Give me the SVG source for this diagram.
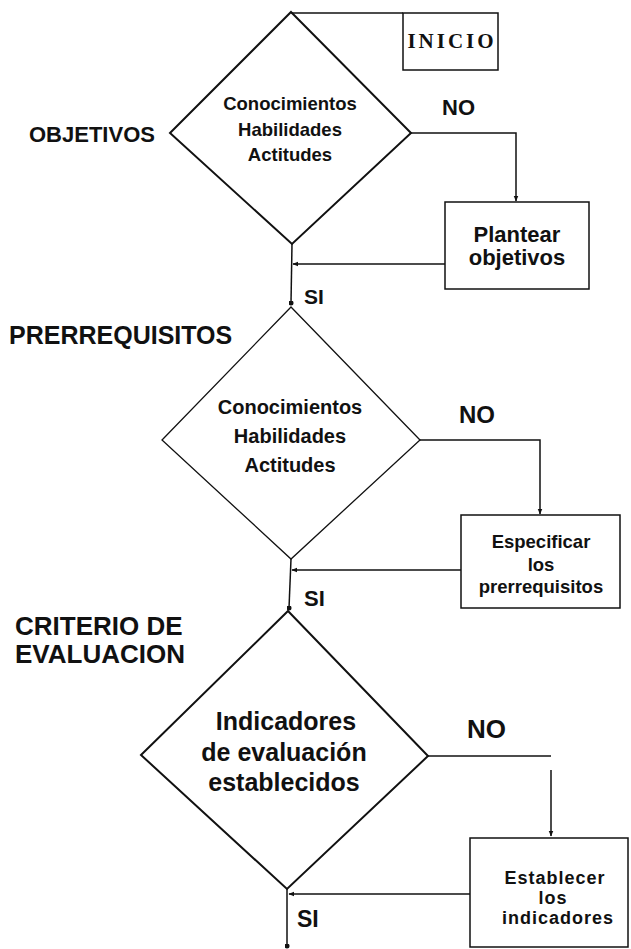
<svg xmlns="http://www.w3.org/2000/svg" width="631" height="949" viewBox="0 0 631 949">
  <style>
    .bg { fill: #ffffff; }
    .dia { fill: none; stroke: #111; stroke-width: 2; stroke-linejoin: miter; }
    .dia-thin { fill: none; stroke: #111; stroke-width: 1.3; }
    .box { fill: none; stroke: #111; stroke-width: 1.5; }
    .con { fill: none; stroke: #111; stroke-width: 1.5; }
    .t { font-family: "Liberation Sans", Arial, Helvetica, sans-serif; font-weight: bold; fill: #111; }
    .c { text-anchor: middle; }
    .serif { font-family: "Liberation Serif", "Times New Roman", serif; font-weight: bold; fill: #111; }
  </style>
  <defs>
    <marker id="arr" viewBox="0 0 10 10" refX="9" refY="5" markerWidth="6" markerHeight="6" markerUnits="userSpaceOnUse" orient="auto">
      <path d="M0,1 L10,5 L0,9 Z" fill="#111"/>
    </marker>
    <marker id="dot" viewBox="0 0 10 10" refX="5" refY="5" markerWidth="5" markerHeight="5" markerUnits="userSpaceOnUse">
      <circle cx="5" cy="5" r="5" fill="#111"/>
    </marker>
  </defs>
  <rect class="bg" x="0" y="0" width="631" height="949"/>

  <g id="labels">
    <text class="t" x="29" y="142" font-size="22">OBJETIVOS</text>
    <text class="t" x="9" y="344" font-size="25">PRERREQUISITOS</text>
    <text class="t" x="15" y="635" font-size="26">CRITERIO DE</text>
    <text class="t" x="15" y="663" font-size="26">EVALUACION</text>
  </g>

  <g id="inicio">
    <rect class="box" x="403" y="13" width="95" height="57"/>
    <text class="serif c" x="452" y="48" font-size="21" letter-spacing="3">INICIO</text>
  </g>

  <g id="decision1">
    <polygon class="dia" points="291,12 411,133 292,244 170,133"/>
    <text class="t c" x="290" y="110" font-size="18.5">Conocimientos</text>
    <text class="t c" x="290" y="136" font-size="18.5">Habilidades</text>
    <text class="t c" x="290" y="161" font-size="18.5">Actitudes</text>
  </g>

  <g id="plantear">
    <rect class="box" x="445" y="202" width="144" height="87"/>
    <text class="t c" x="517" y="242" font-size="22">Plantear</text>
    <text class="t c" x="517" y="265" font-size="22">objetivos</text>
  </g>

  <g id="decision2">
    <polygon class="dia-thin" points="291,307 420,440 291,559 162,440"/>
    <text class="t c" x="290" y="414" font-size="20">Conocimientos</text>
    <text class="t c" x="290" y="443" font-size="20">Habilidades</text>
    <text class="t c" x="290" y="472" font-size="20">Actitudes</text>
  </g>

  <g id="especificar">
    <rect class="box" x="461" y="515" width="159" height="93"/>
    <text class="t c" x="541" y="548" font-size="18.5">Especificar</text>
    <text class="t c" x="541" y="571" font-size="18.5">los</text>
    <text class="t c" x="541" y="593" font-size="18.5">prerrequisitos</text>
  </g>

  <g id="decision3">
    <polygon class="dia" points="288,611 428,756 287,889 141,755"/>
    <text class="t c" x="286" y="730" font-size="25">Indicadores</text>
    <text class="t c" x="284" y="761" font-size="25">de evaluación</text>
    <text class="t c" x="284" y="791" font-size="25">establecidos</text>
  </g>

  <g id="establecer">
    <rect class="box" x="470" y="838" width="158" height="109"/>
    <text class="t c" x="555" y="884" font-size="18" letter-spacing="1">Establecer</text>
    <text class="t c" x="553" y="904" font-size="18" letter-spacing="1">los</text>
    <text class="t c" x="558" y="924" font-size="18" letter-spacing="1">indicadores</text>
  </g>

  <g id="connectors">
    <polyline class="con" points="291,13 403,13"/>
    <polyline class="con" points="411,133 516,133 516,201" marker-end="url(#arr)"/>
    <polyline class="con" points="445,264 293,264" marker-end="url(#arr)"/>
    <polyline class="con" points="292,244 291,303" marker-end="url(#dot)"/>
    <polyline class="con" points="420,440 540,440 540,514" marker-end="url(#arr)"/>
    <polyline class="con" points="461,570 292,570" marker-end="url(#arr)"/>
    <polyline class="con" points="291,559 289,608" marker-end="url(#dot)"/>
    <polyline class="con" points="428,756 551,756"/>
    <polyline class="con" points="551,770 551,836" marker-end="url(#arr)"/>
    <polyline class="con" points="470,894 289,894" marker-end="url(#arr)"/>
    <polyline class="con" points="287,889 287,946" marker-end="url(#dot)"/>
  </g>

  <g id="branch-labels">
    <text class="t" x="442" y="115" font-size="22">NO</text>
    <text class="t" x="304" y="304" font-size="21">SI</text>
    <text class="t" x="459" y="423" font-size="24">NO</text>
    <text class="t" x="304" y="606" font-size="22">SI</text>
    <text class="t" x="467" y="738" font-size="26">NO</text>
    <text class="t" x="297" y="927" font-size="23">SI</text>
  </g>
</svg>
